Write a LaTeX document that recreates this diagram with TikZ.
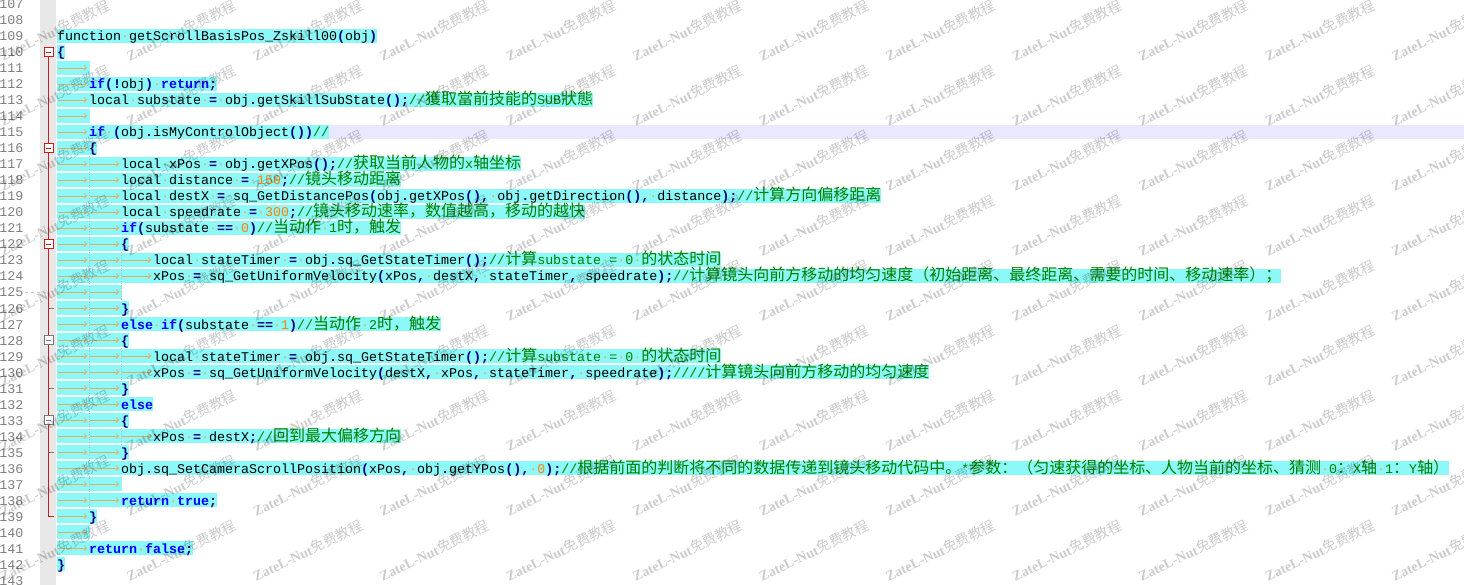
\documentclass[tikz,border=0pt]{standalone}
\usepackage{fontspec}
\usetikzlibrary{arrows.meta}
\newfontfamily\codefont{Liberation Mono}
\newfontfamily\cjkfont[Scale=1.2]{Noto Sans CJK SC}
\newfontfamily\wmfont{Liberation Serif}
\newfontfamily\wmcjk{Noto Sans CJK SC}
\definecolor{hlc}{RGB}{140,248,248}
\definecolor{curc}{RGB}{232,232,255}
\definecolor{kwc}{RGB}{0,0,255}
\definecolor{opc}{RGB}{0,0,128}
\definecolor{numc}{RGB}{255,128,0}
\definecolor{cmc}{RGB}{0,128,0}
\definecolor{wsc}{RGB}{235,170,90}
\definecolor{lnc}{RGB}{128,128,128}
\definecolor{marginc}{RGB}{232,232,232}
\definecolor{foldr}{RGB}{200,30,30}
\definecolor{foldg}{RGB}{120,120,120}
\pgfdeclarelayer{bg}
\pgfsetlayers{bg,main}
\newcommand\K[1]{{\bfseries\color{kwc}#1}}
\newcommand\Op[1]{{\bfseries\color{opc}#1}}
\newcommand\Nm[1]{{\color{numc}#1}}
\newcommand\Cm[1]{{\color{cmc}#1}}
\newcommand\ws{{\color{wsc}·}}
\newcommand\cj[1]{{\cjkfont#1}}
\newcommand\codeline[3]{%
  \pgfmathsetmacro\yc{20+16*(#1-108)}%
  \pgfmathsetmacro\yt{\yc-7}%
  \pgfmathsetmacro\yb{\yc+7}%
  \pgfmathsetmacro\xs{57+32*#2}%
  \node[codetxt] (L#1) at (\xs,\yc+5) {#3};
  \begin{pgfonlayer}{bg}
    \fill[hlc] (57,\yt) rectangle (L#1.east |- 57,\yb);
  \end{pgfonlayer}
  \ifnum#2>0
    \foreach \i in {1,...,#2}{\draw[tabarr] ({57+32*(\i-1)+1},\yc) -- ({57+32*\i-2},\yc);}
  \fi
}
\tikzset{
  codetxt/.style={inner sep=0pt,anchor=base west,font=\codefont\fontsize{13.333}{16}\selectfont},
  lnum/.style={inner sep=0pt,anchor=base east,text=lnc,font=\codefont\fontsize{13.333}{16}\selectfont},
  tabarr/.style={draw=wsc,line width=0.7pt,-{Straight Barb[length=2.5pt,width=5pt]}},
  foldbox/.style={draw,fill=white,minimum size=9pt,inner sep=0pt,line width=0.8pt},
  guide/.style={draw=gray!55,dotted,line width=0.6pt},
  wm/.style={anchor=base west,rotate=26,inner sep=0pt,text=black,text opacity=0.2,font=\fontsize{14}{14}\selectfont},
}
\begin{document}
\begin{tikzpicture}[x=1pt,y=-1pt]
\useasboundingbox (0,0) rectangle (1464,585);
\begin{pgfonlayer}{bg}
  \fill[white] (0,0) rectangle (1464,585);
  \fill[marginc] (40,0) rectangle (56,585);
  \fill[curc] (57,125) rectangle (1464,139);
\end{pgfonlayer}
% line numbers
\foreach \n in {107,...,143}{
  \node[lnum] (N\n) at (23.5,{20+16*(\n-108)+5}) {\n};
}
% code
\codeline{109}{0}{function\ws getScrollBasisPos\_Zskill00\Op{(}obj\Op{)}}
\codeline{110}{0}{\Op{\{}}
\codeline{111}{1}{}
\codeline{112}{1}{\K{if}\Op{(!}obj\Op{)}\ws\K{return}\Op{;}}
\codeline{113}{1}{local\ws substate\ws\Op{=}\ws obj\Op{.}getSkillSubState\Op{();}\Cm{//\cj{獲取當前技能的}SUB\cj{狀態}}}
\codeline{114}{1}{}
\codeline{115}{1}{\K{if}\ws\Op{(}obj\Op{.}isMyControlObject\Op{())}\Cm{//}}
\codeline{116}{1}{\Op{\{}}
\codeline{117}{2}{local\ws xPos\ws\Op{=}\ws obj\Op{.}getXPos\Op{();}\Cm{//\cj{获取当前人物的}x\cj{轴坐标}}}
\codeline{118}{2}{local\ws distance\ws\Op{=}\ws\Nm{150}\Op{;}\Cm{//\cj{镜头移动距离}}}
\codeline{119}{2}{local\ws destX\ws\Op{=}\ws sq\_GetDistancePos\Op{(}obj\Op{.}getXPos\Op{(),}\ws obj\Op{.}getDirection\Op{(),}\ws distance\Op{);}\Cm{//\cj{计算方向偏移距离}}}
\codeline{120}{2}{local\ws speedrate\ws\Op{=}\ws\Nm{300}\Op{;}\Cm{//\cj{镜头移动速率，数值越高，移动的越快}}}
\codeline{121}{2}{\K{if}\Op{(}substate\ws\Op{==}\ws\Nm{0}\Op{)}\Cm{//\cj{当动作}\ws 1\cj{时，触发}}}
\codeline{122}{2}{\Op{\{}}
\codeline{123}{3}{local\ws stateTimer\ws\Op{=}\ws obj\Op{.}sq\_GetStateTimer\Op{();}\Cm{//\cj{计算}substate\ws=\ws 0\ws\cj{的状态时间}}}
\codeline{124}{3}{xPos\ws\Op{=}\ws sq\_GetUniformVelocity\Op{(}xPos\Op{,}\ws destX\Op{,}\ws stateTimer\Op{,}\ws speedrate\Op{);}\Cm{//\cj{计算镜头向前方移动的均匀速度（初始距离、最终距离、需要的时间、移动速率）；}}}
\codeline{125}{2}{}
\codeline{126}{2}{\Op{\}}}
\codeline{127}{2}{\K{else}\ws\K{if}\Op{(}substate\ws\Op{==}\ws\Nm{1}\Op{)}\Cm{//\cj{当动作}\ws 2\cj{时，触发}}}
\codeline{128}{2}{\Op{\{}}
\codeline{129}{3}{local\ws stateTimer\ws\Op{=}\ws obj\Op{.}sq\_GetStateTimer\Op{();}\Cm{//\cj{计算}substate\ws=\ws 0\ws\cj{的状态时间}}}
\codeline{130}{3}{xPos\ws\Op{=}\ws sq\_GetUniformVelocity\Op{(}destX\Op{,}\ws xPos\Op{,}\ws stateTimer\Op{,}\ws speedrate\Op{);}\Cm{////\cj{计算镜头向前方移动的均匀速度}}}
\codeline{131}{2}{\Op{\}}}
\codeline{132}{2}{\K{else}}
\codeline{133}{2}{\Op{\{}}
\codeline{134}{3}{xPos\ws\Op{=}\ws destX\Op{;}\Cm{//\cj{回到最大偏移方向}}}
\codeline{135}{2}{\Op{\}}}
\codeline{136}{2}{obj\Op{.}sq\_SetCameraScrollPosition\Op{(}xPos\Op{,}\ws obj\Op{.}getYPos\Op{(),}\ws\Nm{0}\Op{);}\Cm{//\cj{根据前面的判断将不同的数据传递到镜头移动代码中。}*\cj{参数：（匀速获得的坐标、人物当前的坐标、猜测}\ws 0\cj{：}X\cj{轴}\ws 1\cj{：}Y\cj{轴）}}}
\codeline{137}{2}{}
\codeline{138}{2}{\K{return}\ws\K{true}\Op{;}}
\codeline{139}{1}{\Op{\}}}
\codeline{140}{1}{}
\codeline{141}{1}{\K{return}\ws\K{false}\Op{;}}
\codeline{142}{0}{\Op{\}}}
% indent guides
\draw[guide] (89,156) -- (89,508);
\draw[guide] (121,252) -- (121,300);
\draw[guide] (121,348) -- (121,380);
\draw[guide] (121,428) -- (121,444);
\draw[dashed,gray!45,line width=0.6pt] (25,292) -- (47,292);
% fold margin
\draw[foldr,line width=0.8pt] (48.5,57) -- (48.5,516) -- (54,516);
\foreach \yy in {308,388,452}{\draw[foldg,line width=0.8pt] (48.5,\yy) -- (54,\yy);}
\foreach \fl/\yy/\cc in {110/52/foldr,116/148/foldr,122/244/foldr,128/340/foldg,133/420/foldg}{
  \node[foldbox,draw=\cc] (F\fl) at (48.5,\yy) {};
  \draw[\cc,line width=0.8pt] ([xshift=2pt]F\fl.west) -- ([xshift=-2pt]F\fl.east);
}
% watermark
\foreach \i in {0,...,11}{\foreach \j in {0,...,8}{
  \node[wm] (wm-\i-\j) at ({3+126.5*\i},{62+65*\j}) {{\wmfont\bfseries ZateL-Nut}{\wmcjk 免费教程}};
}}
\end{tikzpicture}
\end{document}
